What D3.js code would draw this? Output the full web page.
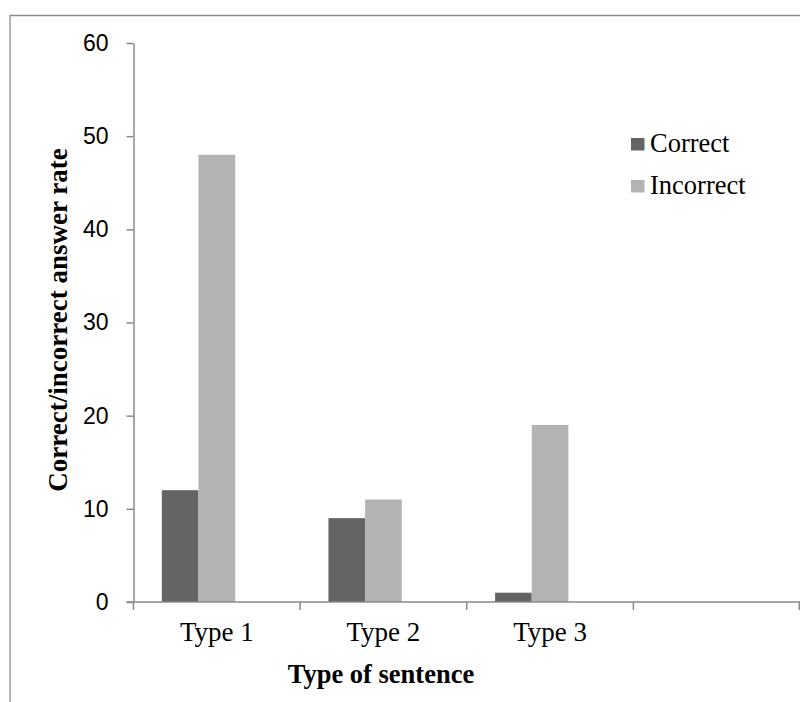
<!DOCTYPE html>
<html>
<head>
<meta charset="utf-8">
<script src="https://cdn.jsdelivr.net/npm/d3@7"></script>
<style>
  html, body { margin: 0; padding: 0; background: #fff; }
  svg { display: block; }
</style>
</head>
<body>
<svg id="chart" width="800" height="702"></svg>
<script>
// Sentence types on the x axis (the fourth slot is left empty)
const categories = ["Type 1", "Type 2", "Type 3", ""];
// Three series slots per group; the third one carries no data
const seriesNames = ["Correct", "Incorrect", ""];
const correctValues = [12, 9, 1, null];
const incorrectValues = [48, 11, 19, null];
const emptyValues = [null, null, null, null];
const yTicks = [0, 10, 20, 30, 40, 50, 60];
const seriesColors = ["#646464", "#b3b3b3", "#ffffff"];

const svg = d3.select("#chart");
const axisColor = "#8a8a8a";

// Outer frame of the chart area
svg.append("path")
  .attr("d", "M10,702 V15.5 H800")
  .attr("fill", "none")
  .attr("stroke", "#8c8c8c")
  .attr("stroke-width", 1.3);

const plot = { left: 133.5, right: 800, top: 43, bottom: 602 };

const x = d3.scaleBand()
  .domain(categories)
  .range([plot.left, plot.right])
  .paddingInner(0)
  .paddingOuter(0);

const xSub = d3.scaleBand()
  .domain(seriesNames)
  .range([0, x.bandwidth()])
  .paddingInner(0)
  .paddingOuter(0.773);

const y = d3.scaleLinear()
  .domain([0, 60])
  .range([plot.bottom, plot.top]);

const rows = categories.map((c, i) => ({
  category: c,
  values: [correctValues[i], incorrectValues[i], emptyValues[i]]
}));

// Bars
const groups = svg.append("g")
  .selectAll("g")
  .data(rows)
  .join("g")
  .attr("transform", d => `translate(${x(d.category)},0)`);

groups.selectAll("rect")
  .data(d => d.values.map((v, j) => ({ name: seriesNames[j], value: v, j }))
    .filter(e => e.value != null))
  .join("rect")
  .attr("x", d => xSub(d.name))
  .attr("width", xSub.bandwidth())
  .attr("y", d => y(d.value))
  .attr("height", d => y(0) - y(d.value))
  .attr("fill", d => seriesColors[d.j]);

// Y axis
const yAxis = svg.append("g")
  .attr("transform", `translate(${plot.left},0)`)
  .call(d3.axisLeft(y).tickValues(yTicks).tickSize(7).tickSizeOuter(0).tickPadding(18));
yAxis.select(".domain").attr("stroke", axisColor).attr("stroke-width", 1.5);
yAxis.selectAll(".tick line").attr("stroke", axisColor).attr("stroke-width", 1.5);
yAxis.selectAll(".tick text")
  .attr("fill", "#000")
  .style("font-family", "'Liberation Sans', Arial, sans-serif")
  .style("font-size", "23px");

// X axis line and category boundary ticks
const xAxisG = svg.append("g");
xAxisG.append("line")
  .attr("x1", plot.left - 7).attr("x2", plot.right)
  .attr("y1", y(0)).attr("y2", y(0))
  .attr("stroke", axisColor).attr("stroke-width", 1.5);

const boundaries = categories.map(c => x(c)).concat([x.range()[1] - 0.75]);
xAxisG.selectAll("line.bound")
  .data(boundaries)
  .join("line")
  .attr("class", "bound")
  .attr("x1", d => d).attr("x2", d => d)
  .attr("y1", y(0)).attr("y2", y(0) + 8)
  .attr("stroke", axisColor).attr("stroke-width", 1.5);

// Category labels
xAxisG.selectAll("text.cat")
  .data(categories)
  .join("text")
  .attr("class", "cat")
  .attr("x", d => x(d) + x.bandwidth() / 2)
  .attr("y", 641)
  .attr("text-anchor", "middle")
  .style("font-family", "'Liberation Serif', 'Times New Roman', serif")
  .style("font-size", "27px")
  .text(d => d);

// Axis titles
svg.append("text")
  .attr("x", 381)
  .attr("y", 683)
  .attr("text-anchor", "middle")
  .style("font-family", "'Liberation Serif', 'Times New Roman', serif")
  .style("font-size", "26.5px")
  .style("font-weight", "bold")
  .text("Type of sentence");

svg.append("text")
  .attr("transform", "translate(67,320) rotate(-90)")
  .attr("text-anchor", "middle")
  .style("font-family", "'Liberation Serif', 'Times New Roman', serif")
  .style("font-size", "27px")
  .style("font-weight", "bold")
  .text("Correct/incorrect answer rate");

// Legend (only the two named series)
const legend = svg.append("g").attr("transform", "translate(631,138)");
const legendItems = legend.selectAll("g")
  .data(seriesNames.filter(s => s !== ""))
  .join("g")
  .attr("transform", (d, i) => `translate(0,${i * 42})`);
legendItems.append("rect")
  .attr("width", 13.5)
  .attr("height", 12.5)
  .attr("fill", (d, i) => seriesColors[i]);
legendItems.append("text")
  .attr("x", 19)
  .attr("y", 14)
  .style("font-family", "'Liberation Serif', 'Times New Roman', serif")
  .style("font-size", "26.5px")
  .text(d => d);
</script>
</body>
</html>
